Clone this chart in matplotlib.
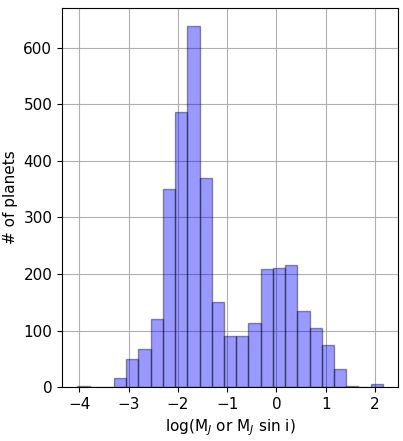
import numpy as np
import matplotlib
matplotlib.use("Agg")
import matplotlib.pyplot as plt

# histogram of planet masses (log scale)
bin_lo = -4.04
bin_hi = 2.16
counts = [2, 1, 1, 16, 49, 67, 120, 350, 486, 638, 370, 151, 90, 91, 114,
          208, 211, 215, 134, 104, 74, 32, 2, 1, 5]

edges = np.linspace(bin_lo, bin_hi, len(counts) + 1)
centers = 0.5 * (edges[:-1] + edges[1:])

plt.rcParams['font.size'] = 11
fig = plt.figure(figsize=(4.03, 4.41), dpi=100)
ax = fig.add_axes([0.154, 0.122, 0.834, 0.86])
ax.set_axisbelow(True)
ax.grid(True, color='#b0b0b0')
ax.hist(centers, bins=edges, weights=counts, color='blue', alpha=0.4,
        edgecolor='k')
ax.set_xticks([-4, -3, -2, -1, 0, 1, 2])
ax.set_xlabel('log(M$_J$ or M$_J$ sin i)')
ax.set_ylabel('# of planets')
fig.savefig("out.png", dpi=100)
